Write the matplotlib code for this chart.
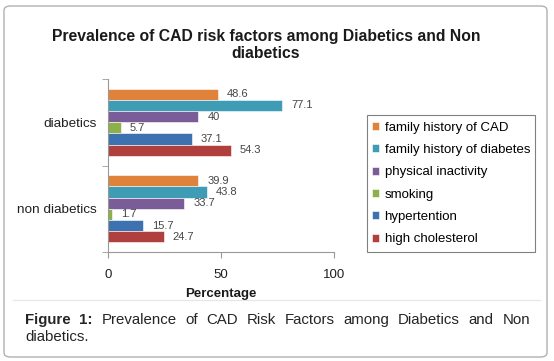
import matplotlib
matplotlib.use("Agg")
from matplotlib import pyplot as plt
from matplotlib.patches import FancyBboxPatch, Rectangle
from matplotlib.lines import Line2D
import numpy as np

plt.rcParams['font.family'] = ['Liberation Sans', 'DejaVu Sans']

categories = ["non diabetics", "diabetics"]
factors = ["family history of CAD", "family history of diabetes", "physical inactivity",
           "smoking", "hypertention", "high cholesterol"]
# values per factor: [non diabetics, diabetics]
family_cad = [39.9, 48.6]
family_diabetes = [43.8, 77.1]
physical_inactivity = [33.7, 40]
smoking = [1.7, 5.7]
hypertention = [15.7, 37.1]
high_cholesterol = [24.7, 54.3]
series = [family_cad, family_diabetes, physical_inactivity, smoking, hypertention, high_cholesterol]
colors = ["#E0823A", "#3E9DB5", "#7A5C99", "#8DB04A", "#3D72B0", "#B0403E"]

W, H = 554, 361
fig = plt.figure(figsize=(W / 100, H / 100), dpi=100)


def fx(px):
    return px / W


def fy(py):
    return 1 - py / H


# outer rounded frame
frame = FancyBboxPatch((fx(4), fy(357)), fx(543), 351 / H,
                       boxstyle="round,pad=0,rounding_size=0.012",
                       transform=fig.transFigure, facecolor="none",
                       edgecolor="#b0b0b0", lw=1.0, zorder=5)
fig.add_artist(frame)

ax = fig.add_axes([fx(108), fy(252), fx(334) - fx(108), (252 - 79) / H])
ax.patch.set_alpha(0)

h = 0.13
y = np.arange(len(categories))
for i, (vals, c, name) in enumerate(zip(series, colors, factors)):
    pos = y + (2.5 - i) * h
    ax.barh(pos, vals, height=h, color=c, edgecolor="white", lw=0.4, label=name)
    for p, v in zip(pos, vals):
        ax.text(v + 4, p, f"{v:g}", va="center", ha="left", fontsize=8, color="#454545")

ax.set_xlim(0, 100)
ax.set_ylim(-0.5, 1.5)
ax.set_xticks([0, 50, 100])
ax.set_yticks(y)
ax.set_yticklabels(categories, fontsize=9.7, color="#202020")
ax.set_yticks([-0.5, 0.5, 1.5], minor=True)
ax.tick_params(axis="y", which="major", length=0, pad=8)
ax.tick_params(axis="y", which="minor", length=4, color="#999999", direction="out")
ax.tick_params(axis="x", length=4, color="#999999", labelsize=9.5, labelcolor="#202020", pad=8)
for s in ["top", "right"]:
    ax.spines[s].set_visible(False)
for s in ["left", "bottom"]:
    ax.spines[s].set_color("#999999")
    ax.spines[s].set_linewidth(0.8)
ax.set_xlabel("Percentage", fontsize=9.5, fontweight="bold", labelpad=5, color="#1a1a1a")

fig.text(fx(266), fy(37), "Prevalence of CAD risk factors among Diabetics and Non",
         ha="center", va="center", fontsize=11.3, fontweight="bold", color="#1a1a1a")
fig.text(fx(266), fy(54), "diabetics",
         ha="center", va="center", fontsize=11.3, fontweight="bold", color="#1a1a1a")

# legend: frame drawn separately for tight horizontal padding
fig.add_artist(Rectangle((fx(367), fy(252)), fx(535) - fx(367), (252 - 115) / H,
                         transform=fig.transFigure, facecolor="white", edgecolor="#808080",
                         lw=0.8, zorder=3))
leg = fig.legend(loc="center left", bbox_to_anchor=(fx(372), fy(183.5)), bbox_transform=fig.transFigure,
                 fontsize=9.5, frameon=False,
                 handlelength=0.55, handleheight=0.55, handletextpad=0.4, labelspacing=0.78,
                 borderpad=0, borderaxespad=0)
leg.set_zorder(4)

# separator line
fig.add_artist(Line2D([fx(13), fx(540)], [fy(300), fy(300)], transform=fig.transFigure,
                      color="#e6e6e6", lw=0.8))

# justified caption, first line
words = ["Figure", "1:", "Prevalence", "of", "CAD", "Risk", "Factors", "among",
         "Diabetics", "and", "Non"]
texts = []
for k, w in enumerate(words):
    texts.append(fig.text(0, fy(320), w, ha="left", va="center", fontsize=10.8,
                          fontweight="bold" if k < 2 else "normal", color="#252525"))
fig.canvas.draw()
r = fig.canvas.get_renderer()
widths = [t.get_window_extent(r).width for t in texts]
x0, x1 = 25, 530
gap = (x1 - x0 - sum(widths)) / (len(words) - 1)
x = x0
for t, wd in zip(texts, widths):
    t.set_x(fx(x))
    x += wd + gap
fig.text(fx(25), fy(337), "diabetics.", ha="left", va="center", fontsize=10.8, color="#252525")

fig.savefig("out.png", dpi=100)
